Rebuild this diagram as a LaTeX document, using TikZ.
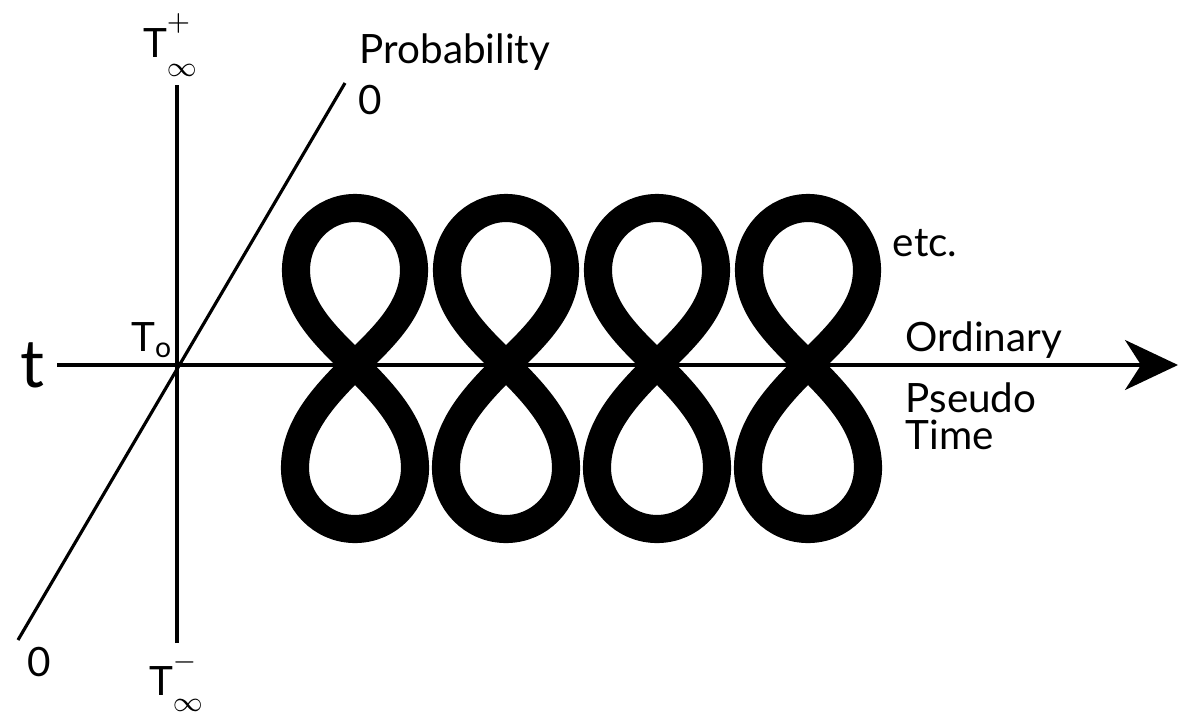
\documentclass[tikz,border=0pt]{standalone}
\usepackage{fontspec}
\setmainfont{Lato}
\usepackage{tikz}
\usetikzlibrary{arrows.meta}

\begin{document}
\begin{tikzpicture}[
lbl/.style={font=\fontsize{11.5}{11.5}\selectfont,inner sep=0pt},
axis/.style={line width=0.9pt},
arrow/.style={axis,-{Stealth[length=5.3mm,width=5mm,inset=1.6mm]}},
loop8/.style={line width=8pt,line join=round}
]
\useasboundingbox (0,0) rectangle (11.86,7.12);
% axes
\coordinate (hstart) at (0.57,3.47);
\coordinate (hend) at (11.78,3.47);
\coordinate (vtop) at (1.77,6.27);
\coordinate (vbot) at (1.77,0.69);
\coordinate (dtop) at (3.45,6.29);
\coordinate (dbot) at (0.18,0.72);
\draw[arrow] (hstart)--(hend);
\draw[axis] (vbot)--(vtop);
\draw[axis] (dbot)--(dtop);
% figure eights
\foreach \i/\x in {1/3.55,2/5.06,3/6.57,4/8.08}{
  \coordinate (c\i) at (\x,3.47);
  \draw[loop8] (c\i) to[out=45,in=-90,looseness=0.9] ++(0.59,0.95) to[out=90,in=0] ++(-0.59,0.62)
    to[out=180,in=90] ++(-0.59,-0.62) to[out=-90,in=135,looseness=0.9] (c\i)
    to[out=-45,in=90,looseness=0.9] ++(0.60,-1.03) to[out=-90,in=0] ++(-0.60,-0.61)
    to[out=180,in=-90] ++(-0.60,0.61) to[out=90,in=-135,looseness=0.9] cycle;
}
% labels
\node[lbl] (tplus) at (1.70,6.67) {T\rlap{\raisebox{1.3ex}{$\scriptstyle +$}}\raisebox{-0.9ex}{$\scriptstyle\infty$}};
\node[lbl] (prob) at (4.55,6.60) {Probability};
\node[lbl] (ztop) at (3.70,6.12) {0};
\node[lbl] (tnull) at (1.52,3.72) {T\textsubscript{o}};
\node[inner sep=0pt,font=\fontsize{19}{19}\selectfont] (tee) at (0.32,3.47) {t};
\node[lbl] (zbot) at (0.39,0.50) {0};
\node[lbl] (tminus) at (1.76,0.30) {T\rlap{\raisebox{1.3ex}{$\scriptstyle -$}}\raisebox{-0.8ex}{$\scriptstyle\infty$}};
\node[lbl] (etc) at (9.25,4.69) {etc.};
\node[lbl,anchor=west] (ord) at (9.05,3.72) {Ordinary};
\node[lbl,anchor=west] (pseudo) at (9.05,3.14) {Pseudo};
\node[lbl,anchor=west] (time) at (9.05,2.77) {Time};
\end{tikzpicture}
\end{document}
